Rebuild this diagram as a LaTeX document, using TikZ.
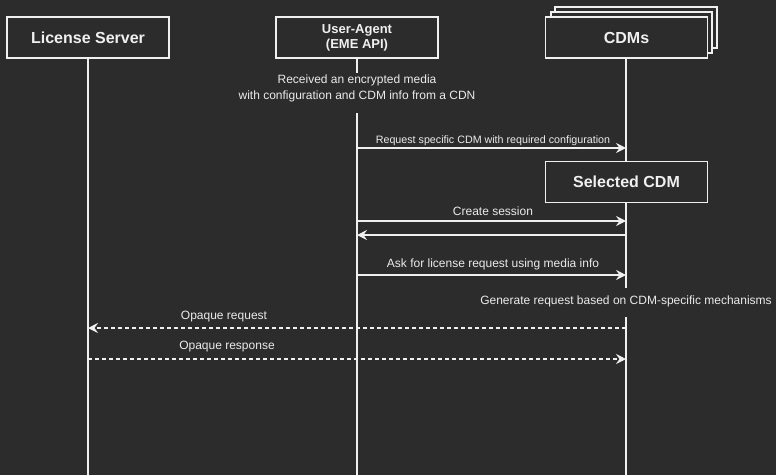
\documentclass[tikz,border=0pt]{standalone}
\usepackage{fontspec}
\setmainfont{Liberation Sans}
\usetikzlibrary{arrows.meta}
\definecolor{bg}{RGB}{44,44,44}
\definecolor{fg}{RGB}{240,240,240}
\definecolor{tx}{RGB}{235,235,235}
\begin{document}
\begin{tikzpicture}[x=1pt,y=-1pt,
  actor/.style={draw=fg, line width=1.3pt, fill=bg, text=fg, font=\fontsize{16}{19}\selectfont\bfseries, minimum width=162pt, minimum height=41pt, inner sep=0pt, align=center},
  life/.style={draw=fg, line width=1.2pt},
  msg/.style={draw=fg, line width=1.1pt, -{Stealth[length=10pt,width=10pt,inset=3.5pt]}},
  dmsg/.style={msg, dash pattern=on 4pt off 3pt},
  lbl/.style={text=tx, inner sep=0pt, font=\fontsize{12}{16}\selectfont},
  slbl/.style={text=tx, inner sep=0pt, font=\fontsize{10.7}{13}\selectfont}]
\fill[bg] (0,0) rectangle (776,475);
\useasboundingbox (0,0) rectangle (776,475);
% stacked CDMs background boxes
\draw[draw=fg, line width=1.3pt, fill=bg] (555,7) rectangle (717,48);
\draw[draw=fg, line width=1.3pt, fill=bg] (551,12) rectangle (712,53);
\node[actor] (ls) at (88,37.5) {License Server};
\node[actor, font=\fontsize{13}{15}\selectfont\bfseries] (ua) at (357,37.5) {User-Agent\\(EME API)};
\node[actor] (cdm) at (626.5,37.5) {CDMs};
\node[actor] (sel) at (626.5,182) {Selected CDM};
% text
\node[lbl, align=center] (recv) at (357,88) {Received an encrypted media\\with configuration and CDM info from a CDN};
\node[lbl] (gen) at (626,301) {Generate request based on CDM-specific mechanisms};
% lifelines
\coordinate (ua1) at (357,73);
\coordinate (ua2) at (357,113);
\coordinate (ua3) at (357,475);
\coordinate (ls1) at (88,475);
\coordinate (c1) at (626,288);
\coordinate (c2) at (626,317);
\coordinate (c3) at (626,475);
\draw[life] (ls.south) -- (ls1);
\draw[life] (ua.south) -- (ua1);
\draw[life] (ua2) -- (ua3);
\draw[life] (cdm.south -| 626,0) -- (sel.north -| 626,0);
\draw[life] (sel.south -| 626,0) -- (c1);
\draw[life] (c2) -- (c3);
% messages
\coordinate (m1a) at (357,148); \coordinate (m1b) at (626,148);
\coordinate (m2a) at (357,221); \coordinate (m2b) at (626,221);
\coordinate (m3a) at (357,235); \coordinate (m3b) at (626,235);
\coordinate (m4a) at (357,275); \coordinate (m4b) at (626,275);
\coordinate (m5a) at (88,328); \coordinate (m5b) at (626,328);
\coordinate (m6a) at (88,359); \coordinate (m6b) at (626,359);
\draw[msg] (m1a) -- (m1b);
\node[slbl] (l1) at (493,141) {Request specific CDM with required configuration};
\draw[msg] (m2a) -- (m2b);
\node[lbl] (l2) at (493,211) {Create session};
\draw[msg] (m3b) -- (m3a);
\draw[msg] (m4a) -- (m4b);
\node[lbl] (l4) at (493,264) {Ask for license request using media info};
\draw[dmsg] (m5b) -- (m5a);
\node[lbl] (l5) at (224,317) {Opaque request};
\draw[dmsg] (m6a) -- (m6b);
\node[lbl] (l6) at (227,347) {Opaque response};
\end{tikzpicture}
\end{document}
